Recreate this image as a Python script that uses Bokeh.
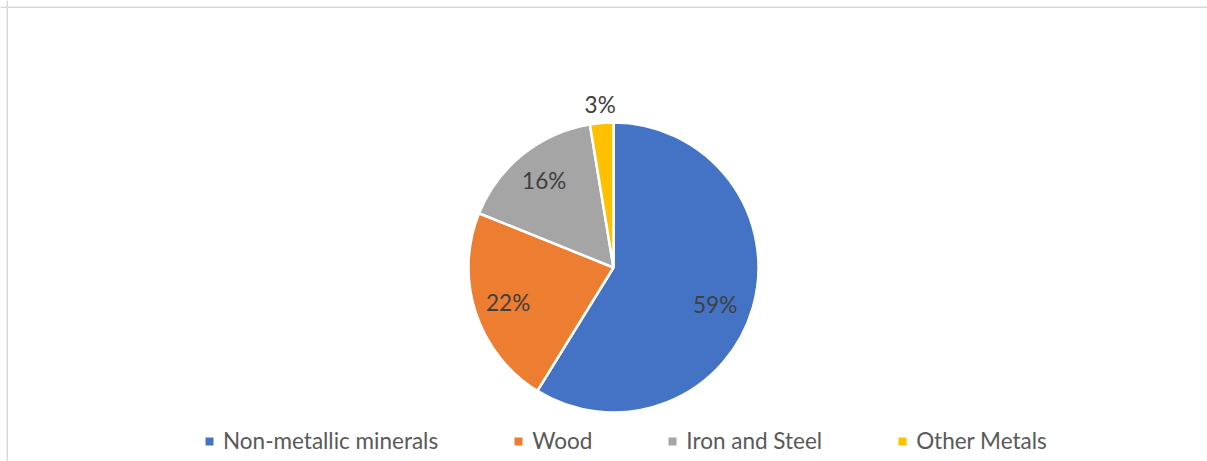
import math
from bokeh.plotting import figure
from bokeh.models import Range1d, Span, Legend, LegendItem, ColumnDataSource
from bokeh.core.properties import value
from bokeh.embed import file_html
from bokeh.resources import INLINE

# ---- data ----
categories = ["Non-metallic minerals", "Wood", "Iron and Steel", "Other Metals"]
shares = [58.8, 22.3, 16.3, 2.6]
colors = ["#4472C4", "#ED7D31", "#A5A5A5", "#FFC000"]

# ---- layout ----
W, H = 1207, 461
CX_PAGE, CY_PAGE = 613, 267   # pie centre in page pixels
R = 145
FONT = "Lato"

p = figure(width=W, height=H, output_backend="svg", toolbar_location=None,
           x_axis_type=None, y_axis_type=None,
           x_range=Range1d(-CX_PAGE, W - CX_PAGE),
           y_range=Range1d(CY_PAGE - H, CY_PAGE),
           min_border=0, min_border_left=0, min_border_right=0,
           min_border_top=0, min_border_bottom=0)
p.outline_line_color = None
p.grid.visible = False
p.background_fill_color = "white"
p.border_fill_color = "white"

total = sum(shares)
starts, ends, lx, ly, ltxt = [], [], [], [], []
cum = 0.0
for v in shares:
    a0 = math.pi / 2 - 2 * math.pi * cum / total
    cum += v
    a1 = math.pi / 2 - 2 * math.pi * cum / total
    starts.append(a0)
    ends.append(a1)
    mid = (a0 + a1) / 2
    if v / total < 0.05:
        frac = 1.13
    elif v / total > 0.5:
        mid -= 0.07
        frac = 0.745
    else:
        frac = 0.765
    lx.append(R * frac * math.cos(mid))
    ly.append(R * frac * math.sin(mid))
    ltxt.append(f"{round(v / total * 100)}%")

src = ColumnDataSource(dict(start=starts, end=ends, color=colors, cat=categories))
p.wedge(x=0, y=0, radius=R, start_angle="start", end_angle="end", direction="clock",
        fill_color="color", line_color="white", line_width=2.5, source=src)

p.text(x=lx, y=ly, text=ltxt, text_align="center", text_baseline="middle",
       text_font=value(FONT), text_font_size="22.5px", text_color="#404040")

# legend via square markers (kept out of view)
items = []
for c, col in zip(categories, colors):
    r = p.scatter(x=[10000], y=[10000], marker="square", size=8, fill_color=col, line_color=None)
    items.append(LegendItem(label=c, renderers=[r]))

legend = Legend(items=items, orientation="horizontal", location=(199, 7),
                glyph_width=20, glyph_height=20, label_standoff=4, spacing=70,
                padding=0, margin=0, border_line_color=None, background_fill_alpha=0,
                label_text_font=FONT, label_text_font_size="22.5px", label_text_color="#595959")
p.add_layout(legend)

# chart frame (left & top edges visible)
p.add_layout(Span(location=6.75 - CX_PAGE, dimension="height", line_color="#d9d9d9", line_width=1.5))
p.add_layout(Span(location=CY_PAGE - 6.75, dimension="width", line_color="#d9d9d9", line_width=1.5))

open("out.html", "w").write(file_html(p, INLINE))
